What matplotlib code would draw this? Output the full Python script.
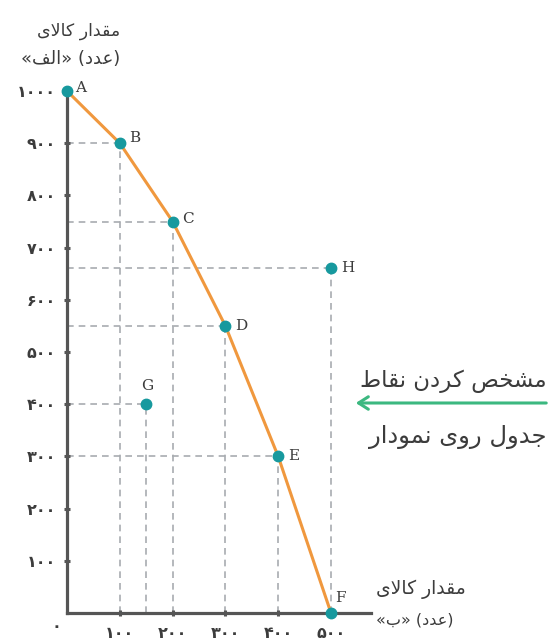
import matplotlib
matplotlib.use("Agg")
import matplotlib.pyplot as plt

# ---------------- data ----------------
curve_labels = ["A", "B", "C", "D", "E", "F"]
good_b = [0, 100, 200, 300, 400, 500]          # x: quantity of good "B"
good_a = [1000, 900, 750, 550, 300, 0]         # y: quantity of good "A"
extra_labels = ["G", "H"]
extra_b = [150, 500]
extra_a = [400, 660]
y_ticks = [100, 200, 300, 400, 500, 600, 700, 800, 900, 1000]
x_ticks = [100, 200, 300, 400, 500]

y_title = ["مقدار کالای", "(عدد) «الف»"]
x_title = ["مقدار کالای", "(عدد) «ب»"]
note_lines = ["مشخص کردن نقاط", "جدول روی نمودار"]

# ---------------- simple Persian shaping ----------------
FORMS = {
    'ا': ('\uFE8D', '\uFE8E', None, None),
    'ب': ('\uFE8F', '\uFE90', '\uFE91', '\uFE92'),
    'ج': ('\uFE9D', '\uFE9E', '\uFE9F', '\uFEA0'),
    'خ': ('\uFEA5', '\uFEA6', '\uFEA7', '\uFEA8'),
    'د': ('\uFEA9', '\uFEAA', None, None),
    'ر': ('\uFEAD', '\uFEAE', None, None),
    'ش': ('\uFEB5', '\uFEB6', '\uFEB7', '\uFEB8'),
    'ص': ('\uFEB9', '\uFEBA', '\uFEBB', '\uFEBC'),
    'ط': ('\uFEC1', '\uFEC2', '\uFEC3', '\uFEC4'),
    'ع': ('\uFEC9', '\uFECA', '\uFECB', '\uFECC'),
    'ف': ('\uFED1', '\uFED2', '\uFED3', '\uFED4'),
    'ق': ('\uFED5', '\uFED6', '\uFED7', '\uFED8'),
    'ک': ('\uFB8E', '\uFB8F', '\uFB90', '\uFB91'),
    'ل': ('\uFEDD', '\uFEDE', '\uFEDF', '\uFEE0'),
    'م': ('\uFEE1', '\uFEE2', '\uFEE3', '\uFEE4'),
    'ن': ('\uFEE5', '\uFEE6', '\uFEE7', '\uFEE8'),
    'و': ('\uFEED', '\uFEEE', None, None),
    'ی': ('\uFBFC', '\uFBFD', '\uFBFE', '\uFBFF'),
}
LAM_ALEF = ('\uFEFB', '\uFEFC', None, None)
MIRROR = {'(': ')', ')': '(', '«': '»', '»': '«'}


def shape(text):
    units = []
    i = 0
    while i < len(text):
        c = text[i]
        if c == 'ل' and i + 1 < len(text) and text[i + 1] == 'ا':
            units.append(('LA', LAM_ALEF))
            i += 2
            continue
        units.append((c, FORMS.get(c)))
        i += 1
    out = []
    for k, (c, f) in enumerate(units):
        if f is None:
            out.append(MIRROR.get(c, c))
            continue
        prev = units[k - 1][1] if k > 0 else None
        nxt = units[k + 1][1] if k + 1 < len(units) else None
        jp = prev is not None and prev[2] is not None
        jn = f[2] is not None and nxt is not None
        if jp and jn:
            g = f[3]
        elif jp:
            g = f[1]
        elif jn:
            g = f[2]
        else:
            g = f[0]
        out.append(g)
    return ''.join(reversed(out))


def fa_digits(n):
    return ''.join(chr(0x06F0 + int(d)) for d in str(n))


# ---------------- figure ----------------
W, H = 549, 639
fig = plt.figure(figsize=(W / 100, H / 100), dpi=100)
ax = fig.add_axes([0, 0, 1, 1])
ax.set_facecolor("white")

# pixel mapping: x=0 -> 67px, x=500 -> 331px; y=0 -> 613px, y=1000 -> 91px (from top)
sx = (331 - 67) / 500
sy = (613 - 91) / 1000
ax.set_xlim(-67 / sx, (W - 67) / sx)
ax.set_ylim(-(H - 613) / sy, 613 / sy)

text_col = "#3c3c3c"
axis_col = "#555555"
dash_col = "#a8acb0"
teal = "#17999e"
orange = "#f0983e"

# dashed guide lines
all_b = good_b + extra_b
all_a = good_a + extra_a
ax.hlines(all_a, 0, all_b, colors=dash_col, linestyles=(0, (4, 3)), lw=1.2, zorder=1)
ax.vlines(all_b, 0, all_a, colors=dash_col, linestyles=(0, (4, 3)), lw=1.2, zorder=1)

# frontier curve
ax.plot(good_b, good_a, color=orange, lw=2.2, zorder=3, solid_capstyle="round")
ax.plot(good_b, good_a, "o", color=teal, ms=7.5, zorder=5, mec=teal)
ax.plot(extra_b, extra_a, "o", color=teal, ms=7.5, zorder=5, mec=teal)

# spines
for s in ["top", "right"]:
    ax.spines[s].set_visible(False)
ax.spines["left"].set_position(("data", 0))
ax.spines["bottom"].set_position(("data", 0))
ax.spines["left"].set_bounds(0, 1000)
ax.spines["bottom"].set_bounds(0, 575)
for s in ["left", "bottom"]:
    ax.spines[s].set_color(axis_col)
    ax.spines[s].set_linewidth(2.3)
    ax.spines[s].set_zorder(4)

ax.set_yticks(y_ticks)
ax.set_yticklabels([fa_digits(v) for v in y_ticks])
ax.set_xticks(x_ticks)
ax.set_xticklabels([fa_digits(v) for v in x_ticks])
ax.tick_params(axis="both", direction="inout", length=4, width=2.2, color=axis_col,
               labelcolor=text_col, labelsize=11.5)
ax.tick_params(axis="y", pad=6)
ax.tick_params(axis="x", pad=7)
for lab in ax.get_xticklabels() + ax.get_yticklabels():
    lab.set_fontfamily("DejaVu Sans")
    lab.set_fontweight("bold")

# origin label
ax.annotate(fa_digits(0), (0, 0), xytext=(-8, -10), textcoords="offset points",
            ha="center", va="center", fontsize=11.5, color=text_col, fontweight="bold")

# point labels
offsets = {"A": (6, 2, "left"), "B": (7, 4, "left"), "C": (7, 2, "left"),
           "D": (7, 0, "left"), "E": (7, 0, "left"), "F": (3, 11, "left"),
           "G": (1, 13, "center"), "H": (7, 0, "left")}
for lab, bx, ay in zip(curve_labels + extra_labels, all_b, all_a):
    dx, dy, ha = offsets[lab]
    ax.annotate(lab, (bx, ay), xytext=(dx, dy), textcoords="offset points",
                ha=ha, va="center", fontsize=11, color=text_col,
                family=["DejaVu Serif"], zorder=6)


# axis titles (figure pixel positions)
def fig_text(xpx, ypx, s, **kw):
    fig.text(xpx / W, 1 - ypx / H, s, **kw)


fig_text(120, 31, shape(y_title[0]), ha="right", va="center", fontsize=12.5, color=text_col)
fig_text(120, 59, shape(y_title[1]), ha="right", va="center", fontsize=13, color=text_col)
fig_text(376, 589, shape(x_title[0]), ha="left", va="center", fontsize=13.5, color=text_col)
fig_text(376, 620, shape(x_title[1]), ha="left", va="center", fontsize=11.5, color=text_col)

# note with arrow
fig_text(547, 381, shape(note_lines[0]), ha="right", va="center", fontsize=16.5, color=text_col)
fig_text(546, 437, shape(note_lines[1]), ha="right", va="center", fontsize=17.5, color=text_col)
ax.annotate("", xy=(353 / W, 1 - 403 / H), xycoords="figure fraction",
            xytext=(1.0, 1 - 403 / H), textcoords="figure fraction",
            arrowprops=dict(arrowstyle="->,head_length=0.7,head_width=0.45",
                            color="#3cb880", lw=2.2))

fig.savefig("out.png", dpi=100)
